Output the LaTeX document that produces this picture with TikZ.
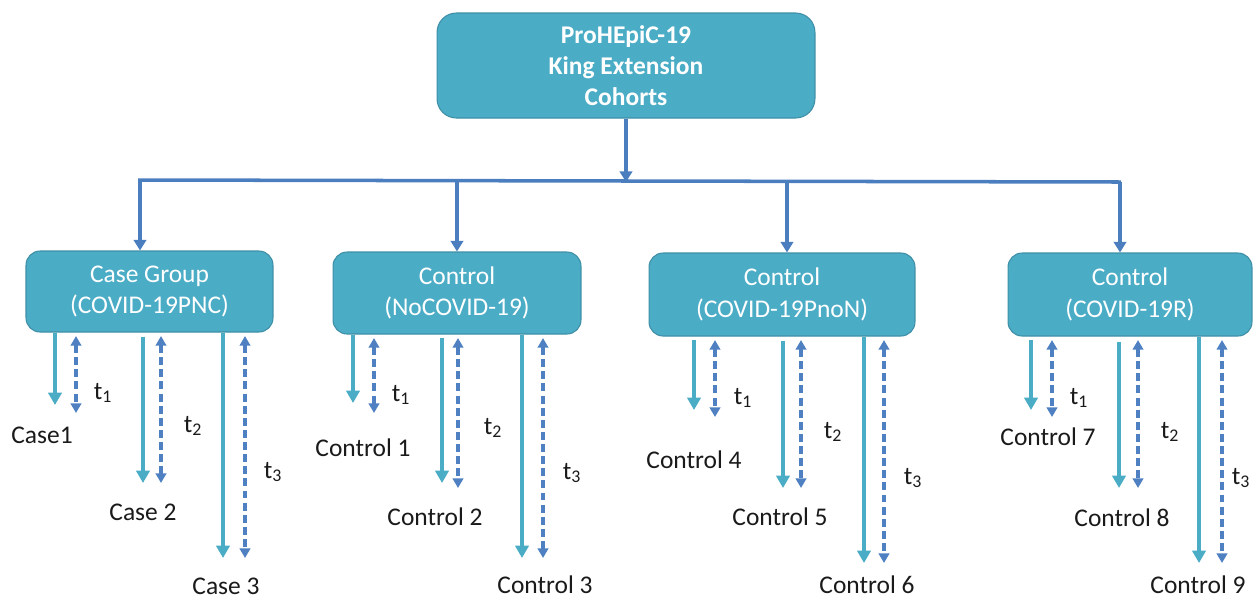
\documentclass[tikz,border=0pt]{standalone}
\usepackage{fontspec}
\setmainfont{Carlito}
\usetikzlibrary{arrows.meta}
\definecolor{aqua}{HTML}{4BACC6}
\definecolor{aquaedge}{HTML}{3E8FA6}
\definecolor{steel}{HTML}{4A7EBF}
\definecolor{dashblue}{HTML}{4F81C2}
\definecolor{ink}{HTML}{1A1A1A}
\begin{document}
\begin{tikzpicture}[x=0.02cm,y=-0.02cm,
 box/.style={draw=aquaedge, line width=0.6pt, fill=aqua, rounded corners=8pt, text=white, align=center, inner sep=0pt, font=\fontsize{14.5}{18}\selectfont},
 tree/.style={draw=steel, line width=2pt},
 treearr/.style={tree, -{Triangle[width=7pt,length=6pt]}},
 solidarr/.style={draw=aqua, line width=2.2pt, -{Triangle[width=7.5pt,length=7pt]}},
 dasharr/.style={draw=dashblue, line width=1.8pt, dash pattern=on 4.5pt off 2.4pt, {Triangle[width=6pt,length=5.5pt]}-{Triangle[width=6pt,length=5.5pt]}},
 lbl/.style={text=ink, inner sep=0pt, font=\fontsize{14.5}{17}\selectfont},
]
\useasboundingbox (0,0) rectangle (1253,600);

\node[box, rounded corners=11pt, minimum width=7.56cm, minimum height=2.1cm, font=\bfseries\fontsize{14.5}{17.6}\selectfont] (top) at (626,65.5) {ProHEpiC-19\\King Extension\\Cohorts};

\node[box, minimum width=4.94cm, minimum height=1.62cm] (b1) at (149.5,291.5) {Case Group\\(COVID-19PNC)};
\node[box, minimum width=4.96cm, minimum height=1.64cm] (b2) at (457,293) {Control\\(NoCOVID-19)};
\node[box, minimum width=5.32cm, minimum height=1.66cm] (b3) at (782,294.5) {Control\\(COVID-19PnoN)};
\node[box, minimum width=4.88cm, minimum height=1.66cm] (b4) at (1130,294.5) {Control\\(COVID-19R)};

\coordinate (j) at (626,182);
\coordinate (hl) at (140,180);
\coordinate (hr) at (1121,182);
\coordinate (d2) at (457,181);
\coordinate (d3) at (787,181);
\coordinate (d4) at (1120,182);
\draw[treearr] (top.south) -- (j);
\draw[treearr, line join=miter] (hr) -- (hl) -- (b1.north -| hl);
\draw[treearr] (d2) -- (b2.north -| d2);
\draw[treearr] (d3) -- (b3.north -| d3);
\draw[treearr] (d4) -- (b4.north -| d4);

\foreach \b/\i/\sx/\sy/\ss/\dx/\dy/\tx/\ty/\lx/\ly/\lab in {
 1/1/55/405/0/76/413/103/393/42/435/Case1,
 1/2/143/483/4/161/483/193/426/143/512/Case 2,
 1/3/223/558/0/245/558/273/472/226/586/Case 3,
 2/1/353/403/0/374/413/401/395/363/448/Control 1,
 2/2/442/483/3/458/488/493/428/435/517/Control 2,
 2/3/522/558/0/543/558/572/473/545/585/Control 3,
 3/1/694/410/3/715/417/743/398/694/460/Control 4,
 3/2/783/488/4/801/488/833/432/780/517/Control 5,
 3/3/864/563/0/884/563/913/478/867/585/Control 6,
 4/1/1031/410/3/1052/417/1079/398/1048/437/Control 7,
 4/2/1119/488/5/1138/488/1170/432/1122/518/Control 8,
 4/3/1199/563/0/1222/563/1241/478/1198/585/Control 9}{
 \coordinate (s\b\i) at (\sx,\sy);
 \coordinate (d\b\i) at (\dx,\dy);
 \draw[solidarr, shorten <=\ss*0.567pt] (b\b.south -| s\b\i) -- (s\b\i);
 \draw[dasharr, shorten <=2pt] (b\b.south -| d\b\i) -- (d\b\i);
 \node[lbl] (t\b\i) at (\tx,\ty) {t\textsubscript{\i}};
 \node[lbl] (L\b\i) at (\lx,\ly) {\lab};
}
\end{tikzpicture}
\end{document}
